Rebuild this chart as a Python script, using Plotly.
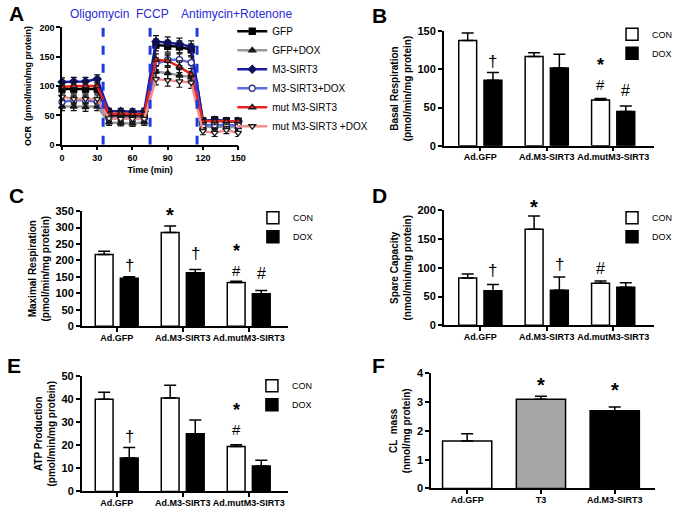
import plotly.graph_objects as go

FONT = "Arial, Liberation Sans, sans-serif"
W, H = 683, 514

# ---------------- data ----------------
# Panel A: OCR time course
time_min = [0, 10, 20, 30, 40, 50, 60, 70, 80, 90, 100, 110, 120, 130, 140, 150]
ocr_gfp = [95, 95, 95, 95, 50, 50, 49, 50, 170, 168, 167, 162, 40, 42, 40, 40]
ocr_gfp_dox = [65, 65, 64, 65, 38, 37, 36, 38, 125, 122, 118, 115, 30, 31, 30, 30]
ocr_m3 = [107, 108, 108, 112, 57, 57, 56, 57, 176, 174, 172, 167, 40, 42, 40, 40]
ocr_m3_dox = [73, 76, 76, 73, 45, 45, 44, 45, 138, 145, 145, 140, 33, 34, 33, 33]
ocr_mut = [98, 100, 100, 100, 52, 53, 52, 52, 145, 143, 133, 120, 40, 40, 40, 40]
ocr_mut_dox = [82, 78, 78, 78, 45, 44, 44, 44, 112, 110, 108, 106, 23, 20, 25, 20]
ocr_err = [7, 7, 7, 7, 5, 5, 5, 5, 10, 10, 10, 10, 6, 6, 6, 6]
injection_times = [35, 75, 115]
injection_labels = ["Oligomycin", "FCCP", "Antimycin+Rotenone"]

# Panels B-E: grouped bars
groups = ["Ad.GFP", "Ad.M3-SIRT3", "Ad.mutM3-SIRT3"]
basal_con = [138, 117, 60]
basal_con_err = [10, 5, 2]
basal_dox = [86, 102, 45]
basal_dox_err = [10, 18, 7]

maximal_con = [218, 285, 133]
maximal_con_err = [10, 20, 4]
maximal_dox = [146, 163, 99]
maximal_dox_err = [5, 10, 10]

spare_con = [82, 167, 73]
spare_con_err = [7, 23, 4]
spare_dox = [60, 61, 66]
spare_dox_err = [11, 23, 8]

atp_con = [40, 40.5, 19.5]
atp_con_err = [3, 5.5, 0.7]
atp_dox = [14.5, 25, 11]
atp_dox_err = [4.5, 6, 2.5]

# Panel F
f_groups = ["Ad.GFP", "T3", "Ad.M3-SIRT3"]
cl_mass = [1.65, 3.1, 2.7]
cl_mass_err = [0.25, 0.1, 0.13]

# significance marks: (group index, bar: -1 CON / +1 DOX / 0 single, symbol, y)
# "*#" = star stacked directly over hash (y is the hash position)
marks_B = [(0, 1, "†", 110), (2, -1, "*#", 80.5), (2, 1, "#", 72)]
marks_C = [(0, 1, "†", 186), (1, -1, "*", 338), (1, 1, "†", 222), (2, -1, "*#", 170), (2, 1, "#", 160)]
marks_D = [(0, 1, "†", 95), (1, -1, "*", 206), (1, 1, "†", 106), (2, -1, "#", 99)]
marks_E = [(0, 1, "†", 24), (2, -1, "*#", 27)]
marks_F = [(1, 0, "*", 3.58), (2, 0, "*", 3.41)]
y_max = {"2": 150, "3": 350, "4": 200, "5": 50, "6": 4}


def dx(px):
    return px / W


def dy(px):
    return 1 - px / H


fig = go.Figure()

# ---------------- Panel A ----------------
a_series = [
    ("GFP", ocr_gfp, "#000000", "square", "#000000", "#000000"),
    ("GFP+DOX", ocr_gfp_dox, "#9a9a9a", "triangle-up", "#1a1a1a", "#1a1a1a"),
    ("M3-SIRT3", ocr_m3, "#1c1ca8", "diamond", "#10105a", "#10105a"),
    ("M3-SIRT3+DOX", ocr_m3_dox, "#5a6ee0", "circle", "#ffffff", "#30307a"),
    ("mut M3-SIRT3", ocr_mut, "#e8231f", "triangle-up", "#e8231f", "#1a1a1a"),
    ("mut M3-SIRT3 +DOX", ocr_mut_dox, "#f29090", "triangle-down", "#ffffff", "#1a1a1a"),
]
for name, ys, lc, sym, mc, mlc in a_series:
    fig.add_trace(go.Scatter(
        x=time_min, y=ys, name=name, mode="lines+markers",
        line=dict(color=lc, width=2.5),
        marker=dict(symbol=sym, size=6, color=mc, line=dict(color=mlc, width=1.3)),
        error_y=dict(type="data", array=ocr_err, color="#111111", thickness=1.2, width=3),
        cliponaxis=False, xaxis="x", yaxis="y", legend="legend",
    ))

for t in injection_times:
    fig.add_shape(type="line", xref="x", yref="y", x0=t, x1=t, y0=0, y1=203,
                  line=dict(color="#1f3be0", width=3, dash="dash"))

label_px = [98, 152, 237]
for lab, px in zip(injection_labels, label_px):
    fig.add_annotation(text=lab, xref="paper", yref="paper", x=dx(px), y=dy(8),
                       showarrow=False, xanchor="center", yanchor="middle",
                       font=dict(family=FONT, size=12, color="#2a2ad6"))


# ---------------- Bar panels ----------------
def bar_panel(xa, ya, leg, con, con_err, dox, dox_err):
    eb = dict(type="data", symmetric=False, arrayminus=[0, 0, 0], color="black", thickness=1.5, width=6)
    fig.add_trace(go.Bar(x=groups, y=con, name="CON", xaxis=xa, yaxis=ya, legend=leg,
                         marker=dict(color="white", line=dict(color="black", width=1.5)),
                         error_y=dict(eb, array=con_err)))
    fig.add_trace(go.Bar(x=groups, y=dox, name="DOX", xaxis=xa, yaxis=ya, legend=leg,
                         marker=dict(color="black", line=dict(color="black", width=1.5)),
                         error_y=dict(eb, array=dox_err)))


bar_panel("x2", "y2", "legend2", basal_con, basal_con_err, basal_dox, basal_dox_err)
bar_panel("x3", "y3", "legend3", maximal_con, maximal_con_err, maximal_dox, maximal_dox_err)
bar_panel("x4", "y4", "legend4", spare_con, spare_con_err, spare_dox, spare_dox_err)
bar_panel("x5", "y5", "legend5", atp_con, atp_con_err, atp_dox, atp_dox_err)

fig.add_trace(go.Bar(x=f_groups, y=cl_mass, width=0.667, showlegend=False, xaxis="x6", yaxis="y6",
                     marker=dict(color=["white", "#a7a7aa", "black"], line=dict(color="black", width=1.5)),
                     error_y=dict(type="data", array=cl_mass_err, arrayminus=[0, 0, 0], symmetric=False,
                                  color="black", thickness=1.5, width=6)))

GOFF = 0.19


def mark(axn, x, yfrac, sym, size, yshift=0):
    txt = "<b>*</b>" if sym == "*" else sym
    fig.add_annotation(text=txt, xref="x" + axn, yref="y" + axn + " domain", x=x, y=yfrac,
                       yshift=yshift, showarrow=False, xanchor="center", yanchor="middle",
                       font=dict(family=FONT, size=size, color="#000000"))


for axn, marks in [("2", marks_B), ("3", marks_C), ("4", marks_D), ("5", marks_E), ("6", marks_F)]:
    for gi, side, sym, yv in marks:
        xv = gi + side * GOFF
        yf = yv / y_max[axn]
        if sym == "*#":
            mark(axn, xv, yf, "#", 15)
            mark(axn, xv, yf, "*", 18, yshift=19)
        else:
            mark(axn, xv, yf, sym, {"*": 20, "†": 17, "#": 16}[sym])

# ---------------- axes ----------------
base_axis = dict(showline=True, linecolor="black", linewidth=1.5, ticks="outside", ticklen=4,
                 tickwidth=1.5, tickcolor="black", showgrid=False, zeroline=False)
bar_tick = dict(family=FONT, size=11, color="black", weight="bold")
cat_tick = dict(family=FONT, size=9, color="black", weight="bold")
cat_axis = dict(base_axis, type="category", tickfont=cat_tick, ticklabelstandoff=-2)
ttl = dict(family=FONT, size=10, color="black")


def ytitle(t):
    return dict(text=t, font=ttl, standoff=4)


layout = dict(
    width=W, height=H, margin=dict(l=0, r=0, t=0, b=0),
    paper_bgcolor="white", plot_bgcolor="white",
    barmode="group", bargap=0.24, bargroupgap=0.29,
    xaxis=dict(base_axis, domain=[dx(60), dx(239)], range=[0, 150], dtick=30, anchor="y",
               tickfont=dict(family=FONT, size=9, color="black", weight="bold"),
               title=dict(text="<b>Time (min)</b>", font=dict(family=FONT, size=9, color="black"), standoff=4)),
    yaxis=dict(base_axis, domain=[dy(142), dy(22)], range=[0, 200], dtick=50, anchor="x",
               tickfont=dict(family=FONT, size=9, color="black", weight="bold"),
               title=dict(text="<b>OCR  (pmol/min/mg protein)</b>", font=dict(family=FONT, size=9, color="black"), standoff=6)),
    xaxis2=dict(cat_axis, domain=[dx(448), dx(662)], range=[-0.55, 2.62], anchor="y2"),
    yaxis2=dict(base_axis, domain=[dy(143), dy(26)], range=[0, 150], dtick=50, anchor="x2", tickfont=bar_tick,
                title=ytitle("<b>Basal Respiration</b><br><b>(pmol/min/mg protein)</b>")),
    xaxis3=dict(cat_axis, domain=[dx(80), dx(290)], range=[-0.53, 2.6], anchor="y3"),
    yaxis3=dict(base_axis, domain=[dy(328), dy(210)], range=[0, 350], dtick=50, anchor="x3", tickfont=bar_tick,
                title=ytitle("<b>Maximal Respiration</b><br><b>(pmol/min/mg protein)</b>")),
    xaxis4=dict(cat_axis, domain=[dx(448), dx(662)], range=[-0.55, 2.62], anchor="y4"),
    yaxis4=dict(base_axis, domain=[dy(327), dy(209)], range=[0, 200], dtick=50, anchor="x4", tickfont=bar_tick,
                title=ytitle("<b>Spare Capacity</b><br><b>(nmol/min/mg protein)</b>")),
    xaxis5=dict(cat_axis, domain=[dx(80), dx(290)], range=[-0.53, 2.6], anchor="y5"),
    yaxis5=dict(base_axis, domain=[dy(497), dy(379)], range=[0, 50], dtick=10, anchor="x5", tickfont=bar_tick,
                title=ytitle("<b>ATP Production</b><br><b>(pmol/min/mg protein)</b>")),
    xaxis6=dict(cat_axis, domain=[dx(435), dx(663)], range=[-0.49, 2.55], anchor="y6"),
    yaxis6=dict(base_axis, domain=[dy(494), dy(376)], range=[0, 4], dtick=1, anchor="x6", tickfont=bar_tick,
                title=ytitle("<b>CL  mass</b><br><b>(nmol/mg protein)</b>")),
)


def leg(xpx, ypx, size):
    return dict(x=dx(xpx), y=dy(ypx), xanchor="left", yanchor="top", bgcolor="rgba(0,0,0,0)",
                font=dict(family=FONT, size=size, color="black"), tracegroupgap=0, itemwidth=30)


layout["legend"] = leg(233, 11, 10)
layout["legend2"] = leg(619, 14, 9)
layout["legend3"] = leg(254, 202, 9)
layout["legend4"] = leg(619, 202, 9)
layout["legend5"] = leg(253, 374, 9)
fig.update_layout(**layout)

for lab, xp, yp in [("A", 4, -6), ("B", 373, -4), ("C", 4, 180), ("D", 373, 180), ("E", 2, 354), ("F", 373, 354)]:
    fig.add_annotation(text="<b>%s</b>" % lab, xref="paper", yref="paper", x=dx(xp), y=dy(yp),
                       showarrow=False, xanchor="left", yanchor="top",
                       font=dict(family=FONT, size=21, color="black"))

fig.write_html("out.html", config={"displayModeBar": False},
               post_script="document.body.style.margin='0';document.body.style.padding='0';"
                           "document.body.style.overflow='hidden';")
